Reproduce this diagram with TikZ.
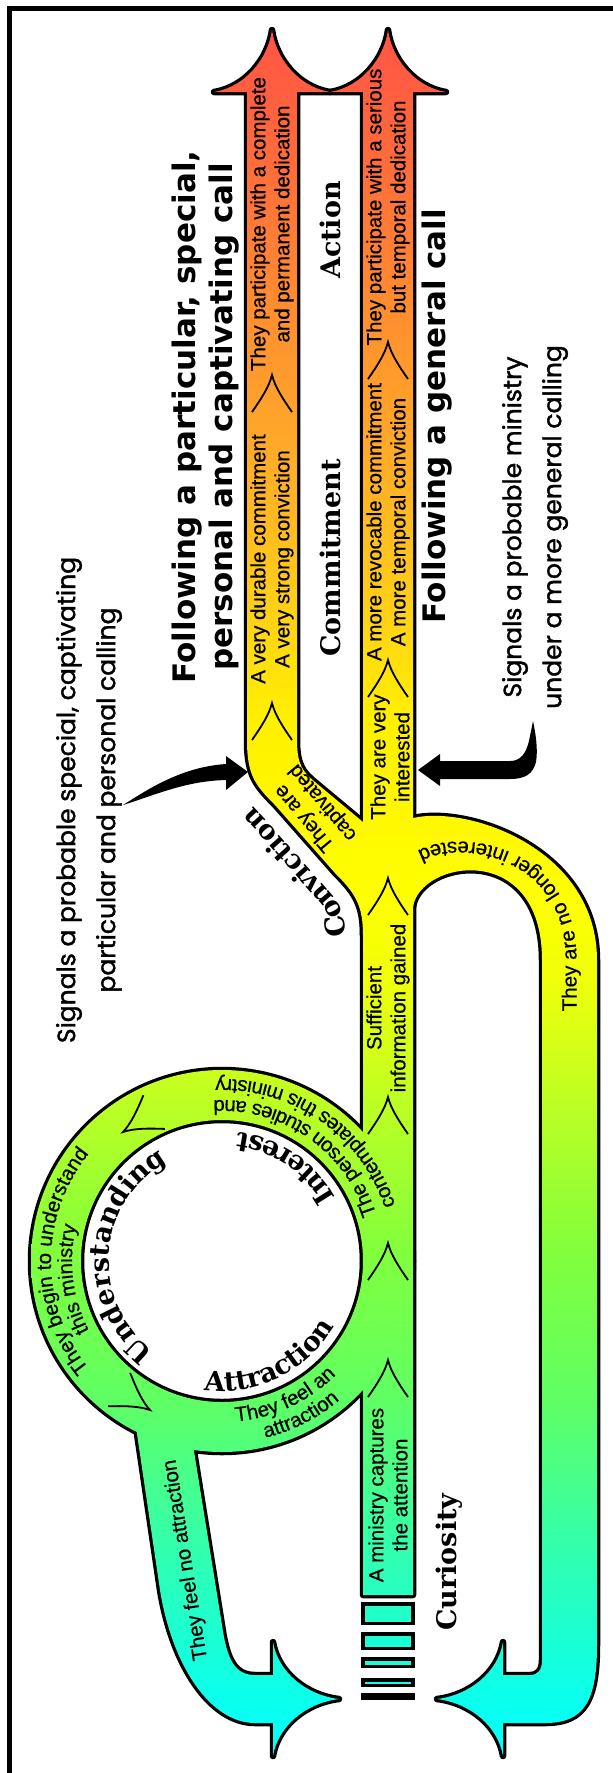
\documentclass[tikz,border=0pt]{standalone}
\usepackage{fontspec}
\usetikzlibrary{decorations.text}
\newfontfamily\pipefamily{Liberation Sans}[FakeBold=0.5]
\newfontfamily\headfamily{DejaVu Sans}
\newfontfamily\stagefamily{DejaVu Serif}
\newfontfamily\notefamily{Poppins}[FakeBold=1.5]
\newcommand\flowtxt{\pipefamily\fontsize{20.5}{24}\selectfont}
\newcommand\stagetxt{\stagefamily\bfseries\fontsize{27}{30}\selectfont}

% colour ramp of the flow, from the start (bottom) to the end (top)
\definecolor{f0}{RGB}{0,255,255}
\definecolor{f1}{RGB}{10,255,238}
\definecolor{f2}{RGB}{50,255,175}
\definecolor{f3}{RGB}{95,255,100}
\definecolor{f4}{RGB}{130,255,60}
\definecolor{f5}{RGB}{190,255,35}
\definecolor{f6}{RGB}{240,255,10}
\definecolor{f7}{RGB}{255,255,0}
\definecolor{f8}{RGB}{255,240,0}
\definecolor{f9}{RGB}{255,205,25}
\definecolor{f10}{RGB}{255,170,40}
\definecolor{f11}{RGB}{255,140,48}
\definecolor{f12}{RGB}{255,105,60}
\definecolor{f13}{RGB}{255,80,70}
\pgfdeclareverticalshading{flowshade}{100bp}{%
  color(0bp)=(f0); color(25bp)=(f0); color(27.06bp)=(f1); color(31.29bp)=(f2);
  color(35.52bp)=(f3); color(39.75bp)=(f4); color(43.97bp)=(f5); color(47.36bp)=(f6);
  color(49.6bp)=(f7); color(54.7bp)=(f8); color(58.08bp)=(f9); color(62.3bp)=(f10);
  color(66.5bp)=(f11); color(70.8bp)=(f12); color(75bp)=(f13); color(100bp)=(f13)}

\tikzset{
  % outlines of the pipes
  generalpipe/.style={insert path={(363,-1595) -- (363,-92) -- (330,-92)
      .. controls (361,-87) and (384,-59) .. (388,-30)
      .. controls (392,-59) and (415,-87) .. (446,-92) -- (413,-92) -- (413,-1595) -- cycle}},
  particularpipe/.style={insert path={(388,-935) -- (363,-935)
      .. controls (363,-905) and (355,-893) .. (335,-873) -- (275,-805)
      .. controls (255,-785) and (247,-775) .. (247,-740) -- (247,-92) -- (214,-92)
      .. controls (245,-87) and (268,-59) .. (272,-30)
      .. controls (276,-59) and (299,-87) .. (330,-92) -- (297,-92) -- (297,-740)
      .. controls (297,-765) and (303,-772) .. (315,-782) -- (363,-822) -- (388,-822) -- cycle}},
  returnloop/.style={insert path={(388,-818) -- (413,-818)
      .. controls (470,-805) and (597,-850) .. (597,-960) -- (597,-1645)
      .. controls (597,-1700) and (585,-1723) .. (545,-1723) -- (503,-1723) -- (503,-1756)
      .. controls (498,-1726) and (470,-1703) .. (437,-1699)
      .. controls (470,-1695) and (498,-1672) .. (503,-1642) -- (503,-1675) -- (530,-1675)
      .. controls (538,-1675) and (542,-1670) .. (542,-1660) -- (542,-960)
      .. controls (542,-840) and (420,-860) .. (413,-907) -- (388,-907) -- cycle}},
  leftreturn/.style={insert path={(132,-1400) -- (160,-1590)
      .. controls (172,-1665) and (210,-1723) .. (255,-1723) -- (273,-1723) -- (273,-1756)
      .. controls (278,-1726) and (306,-1703) .. (339,-1699)
      .. controls (306,-1695) and (278,-1672) .. (273,-1642) -- (273,-1675) -- (255,-1675)
      .. controls (235,-1675) and (227,-1660) .. (222,-1625) -- (189,-1420) -- cycle}},
  ringpipe/.style={insert path={(222,-1261) circle[radius=191] (222,-1261) circle[radius=141]}},
  outline/.style={draw=black, line width=6.5, line join=round},
  chevron/.pic={\draw[line width=1.8, line join=miter] (-20,-37)
      .. controls (-11,-24) and (-3,-12) .. (0,0)
      .. controls (3,-12) and (11,-24) .. (20,-37);},
  pipetxt/.style={font=\flowtxt, align=center, rotate=90, inner sep=0pt},
  stage/.style={font=\stagetxt, rotate=90, inner sep=0pt},
  heading/.style={font=\headfamily\bfseries\fontsize{31}{37}\selectfont, align=center, rotate=90, inner sep=0pt},
  note/.style={font=\notefamily\fontsize{25}{40}\selectfont, align=center, rotate=90, inner sep=0pt},
  ringtext/.style={decorate, decoration={text along path, text align=center, text={|\flowtxt|#1}}},
  stagepath/.style={decorate, decoration={text along path, text align=center, text={|\stagetxt|#1}}}
}

\begin{document}
\begin{tikzpicture}[x=1pt, y=1pt]
\useasboundingbox (0,-1773) rectangle (613,0);

% black outlines first; the fills below cover their inner halves
\path[outline, generalpipe];
\path[outline, particularpipe];
\path[outline, returnloop];
\path[outline, leftreturn];
\path[outline, ringpipe];

% coloured fills, one common vertical ramp
\begin{scope}\clip[generalpipe]; \shade[shading=flowshade] (0,-1773) rectangle (613,0);\end{scope}
\begin{scope}\clip[particularpipe]; \shade[shading=flowshade] (0,-1773) rectangle (613,0);\end{scope}
\begin{scope}\clip[returnloop]; \shade[shading=flowshade] (0,-1773) rectangle (613,0);\end{scope}
\begin{scope}\clip[leftreturn]; \shade[shading=flowshade] (0,-1773) rectangle (613,0);\end{scope}
\begin{scope}[even odd rule]\clip[ringpipe]; \shade[shading=flowshade] (0,-1773) rectangle (613,0);\end{scope}

% fading bars at the start of the stem
\begin{scope}
  \clip (363,-1603.75) rectangle (413,-1623.25) (363,-1633.75) rectangle (413,-1648.25)
        (363,-1658.75) rectangle (413,-1666.25) (363,-1679.75) rectangle (413,-1685.25);
  \shade[shading=flowshade] (0,-1773) rectangle (613,0);
\end{scope}
\draw[line width=3.5] (363,-1603.75) rectangle (413,-1623.25) (363,-1633.75) rectangle (413,-1648.25)
      (363,-1658.75) rectangle (413,-1666.25) (363,-1679.75) rectangle (413,-1685.25);
\fill (361.25,-1693) rectangle (414.75,-1700);

% direction marks
\foreach \yy in {342,660,878,1097,1243,1360} \pic at (388,-\yy) {chevron};
\pic at (272,-375) {chevron};
\pic at (272,-703) {chevron};
\pic[rotate=122.6] at (123,-1132) {chevron};
\pic[rotate=236.5] at (150,-1410) {chevron};

% texts inside the straight pipes
\node[pipetxt] (t1) at (272,-224) {They participate with a complete\\and permanent dedication};
\node[pipetxt] (t2) at (272,-559) {A very durable commitment\\A very strong conviction};
\node[pipetxt] (t3) at (388,-207) {They participate with a serious\\but temporal dedication};
\node[pipetxt] (t4) at (388,-522) {A more revocable commitment\\A more temporal conviction};
\node[pipetxt] (t5) at (390,-757) {They are very\\interested};
\node[pipetxt] (t6) at (388,-1008) {Sufficient\\information gained};
\node[pipetxt] (t7) at (388,-1495) {A ministry captures\\the attention};
\node[pipetxt, rotate=40] (t8) at (314,-810) {They are\\captivated};
\node[pipetxt, rotate=9] (t9) at (186,-1560) {They feel no attraction};

% texts following the ring
\path[ringtext={They feel an}] (222,-1261) ++(-125:161) arc[start angle=-125, end angle=-5, radius=161];
\path[ringtext={attraction}] (222,-1261) ++(-123:182) arc[start angle=-123, end angle=-3, radius=182];
\path[ringtext={They begin to understand}] (222,-1261) ++(250:171) arc[start angle=250, end angle=110, radius=171];
\path[ringtext={this ministry}] (222,-1261) ++(257:150) arc[start angle=257, end angle=117, radius=150];
\path[ringtext={The person studies and}] (222,-1261) ++(-15:161) arc[start angle=-15, end angle=125, radius=161];
\path[ringtext={contemplates this ministry}] (222,-1261) ++(-15:182) arc[start angle=-15, end angle=125, radius=182];

% text along the loop back
\path[decorate, decoration={text along path, text align=center, raise=-7pt,
      text={|\flowtxt|They are no longer interested}}]
  (569.5,-1020) -- (569.5,-960) .. controls (569.5,-845) and (445,-832.5) .. (413,-862.5);

% stage names
\path[stagepath={Attraction}] (222,-1261) ++(-134:130) arc[start angle=-134, end angle=6, radius=130];
\path[stagepath={Interest}] (222,-1261) ++(-14:130) arc[start angle=-14, end angle=126, radius=130];
\path[stagepath={Understanding}] (222,-1261) ++(256:113) arc[start angle=256, end angle=96, radius=113];
\path[stagepath={Conviction}] (346,-1000) -- (346,-935) .. controls (346,-915) and (338,-900) .. (322.25,-884.25)
  -- (262.25,-816.25) .. controls (244,-797) and (230,-782) .. (230,-748);
\node[stage] (action) at (330,-230) {Action};
\node[stage] (commitment) at (330,-558) {Commitment};
\node[stage] (curiosity) at (449,-1562) {Curiosity};

% headings
\node[heading] (particular) at (206,-417) {Following a particular, special,\\personal and captivating call};
\node[heading] (general) at (437,-416) {Following a general call};

% side notes and their pointers
\node[note] (noteparticular) at (89,-800) {Signals a probable special, captivating\\particular and personal calling};
\node[note] (notegeneral) at (535,-527) {Signals a probable ministry\\under a more general calling};
\fill (123,-805) .. controls (150,-788) and (182,-767) .. (226,-764) -- (226,-756) -- (248,-772)
  -- (226,-790) -- (226,-780) .. controls (186,-781) and (158,-794) .. (123,-805) -- cycle;
\fill (418,-770) -- (440,-754) -- (440,-761) -- (510,-761) .. controls (521,-761) and (526,-753) .. (529,-741)
  -- (533,-721) .. controls (536,-735) and (538,-750) .. (536,-762) .. controls (533,-774) and (525,-779) .. (510,-779)
  -- (440,-779) -- (440,-786) -- cycle;

% frame
\draw[line width=5, line join=miter] (9.5,-1773) -- (9.5,-8.5) -- (613,-8.5);
\end{tikzpicture}
\end{document}
